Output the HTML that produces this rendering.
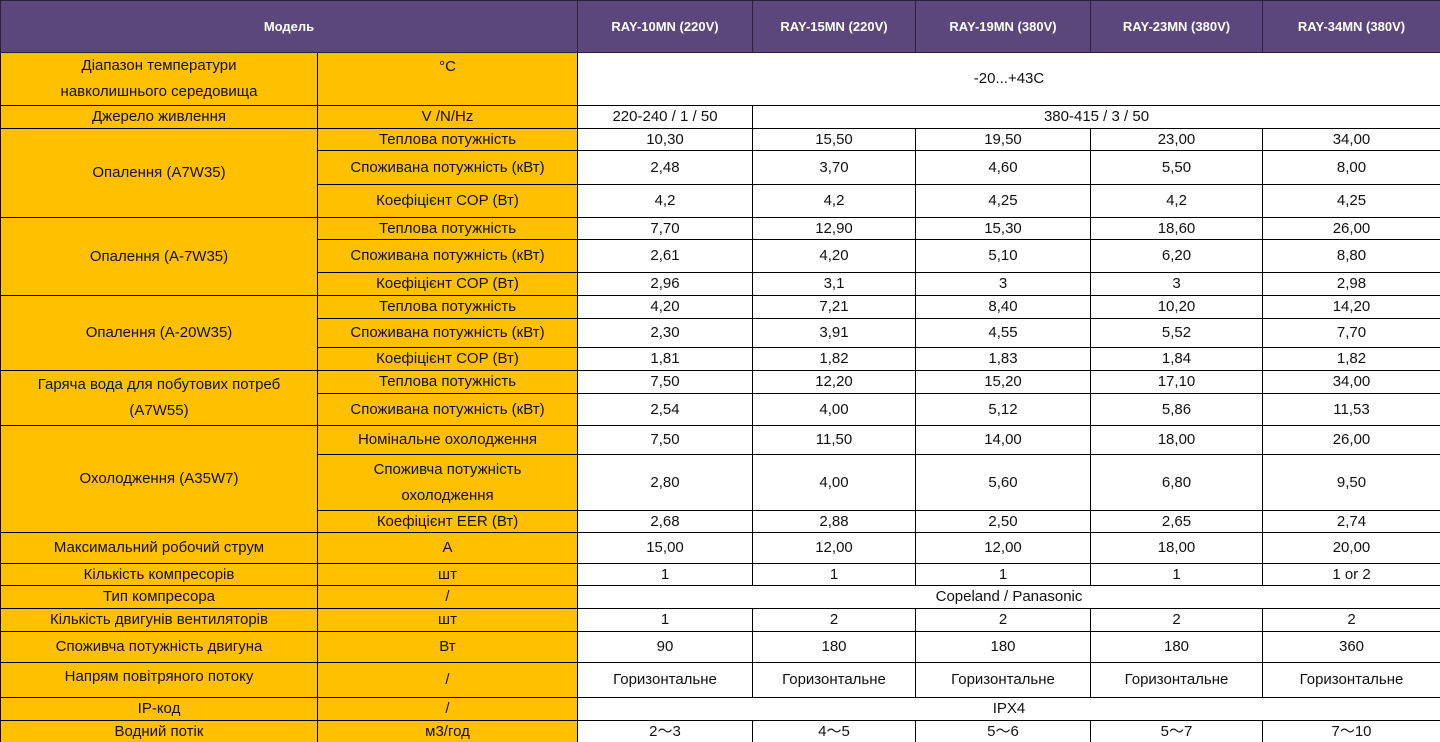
<!DOCTYPE html>
<html><head><meta charset="utf-8">
<style>
html,body{margin:0;padding:0;background:#fff;width:1440px;height:742px;overflow:hidden}
table{border-collapse:collapse;table-layout:fixed;width:1440px;font-family:"Liberation Sans",sans-serif;font-size:15px;color:#111}
td{border:1px solid #000;padding:0;text-align:center;vertical-align:middle;line-height:26px;white-space:nowrap;overflow:hidden}
tr.h td{background:#5b477c;color:#fff;font-weight:bold;font-size:13px;border-color:#2c2040}
td.y{background:#ffc000}
tr td{line-height:20px}
.two{line-height:26px}
</style></head><body>
<table>
<colgroup><col style="width:317px"><col style="width:260px"><col style="width:175px"><col style="width:163px"><col style="width:175px"><col style="width:172px"><col style="width:178px"></colgroup>
<tr class="h" style="height:52px"><td colspan="2">Модель</td><td>RAY-10MN (220V)</td><td>RAY-15MN (220V)</td><td>RAY-19MN (380V)</td><td>RAY-23MN (380V)</td><td>RAY-34MN (380V)</td></tr>
<tr style="height:52px"><td class="y two">Діапазон температури<br>навколишнього середовища</td><td class="y" style="vertical-align:top;padding-top:4px">°C</td><td colspan="5" style="border-top:none">-20...+43C</td></tr>
<tr style="height:23px"><td class="y">Джерело живлення</td><td class="y">V /N/Hz</td><td>220-240 / 1 / 50</td><td colspan="4">380-415 / 3 / 50</td></tr>
<tr style="height:22px"><td class="y" rowspan="3">Опалення (A7W35)</td><td class="y">Теплова потужність</td><td>10,30</td><td>15,50</td><td>19,50</td><td>23,00</td><td>34,00</td></tr>
<tr style="height:34px"><td class="y">Споживана потужність (кВт)</td><td>2,48</td><td>3,70</td><td>4,60</td><td>5,50</td><td>8,00</td></tr>
<tr style="height:33px"><td class="y">Коефіцієнт COP (Вт)</td><td>4,2</td><td>4,2</td><td>4,25</td><td>4,2</td><td>4,25</td></tr>
<tr style="height:22px"><td class="y" rowspan="3">Опалення (A-7W35)</td><td class="y">Теплова потужність</td><td>7,70</td><td>12,90</td><td>15,30</td><td>18,60</td><td>26,00</td></tr>
<tr style="height:33px"><td class="y">Споживана потужність (кВт)</td><td>2,61</td><td>4,20</td><td>5,10</td><td>6,20</td><td>8,80</td></tr>
<tr style="height:23px"><td class="y">Коефіцієнт COP (Вт)</td><td>2,96</td><td>3,1</td><td>3</td><td>3</td><td>2,98</td></tr>
<tr style="height:23px"><td class="y" rowspan="3">Опалення (A-20W35)</td><td class="y">Теплова потужність</td><td>4,20</td><td>7,21</td><td>8,40</td><td>10,20</td><td>14,20</td></tr>
<tr style="height:29px"><td class="y">Споживана потужність (кВт)</td><td>2,30</td><td>3,91</td><td>4,55</td><td>5,52</td><td>7,70</td></tr>
<tr style="height:23px"><td class="y">Коефіцієнт COP (Вт)</td><td>1,81</td><td>1,82</td><td>1,83</td><td>1,84</td><td>1,82</td></tr>
<tr style="height:23px"><td class="y two" rowspan="2">Гаряча вода для побутових потреб<br>(A7W55)</td><td class="y">Теплова потужність</td><td>7,50</td><td>12,20</td><td>15,20</td><td>17,10</td><td>34,00</td></tr>
<tr style="height:32px"><td class="y">Споживана потужність (кВт)</td><td>2,54</td><td>4,00</td><td>5,12</td><td>5,86</td><td>11,53</td></tr>
<tr style="height:29px"><td class="y" rowspan="3">Охолодження (A35W7)</td><td class="y">Номінальне охолодження</td><td>7,50</td><td>11,50</td><td>14,00</td><td>18,00</td><td>26,00</td></tr>
<tr style="height:56px"><td class="y two">Споживча потужність<br>охолодження</td><td>2,80</td><td>4,00</td><td>5,60</td><td>6,80</td><td>9,50</td></tr>
<tr style="height:22px"><td class="y">Коефіцієнт EER (Вт)</td><td>2,68</td><td>2,88</td><td>2,50</td><td>2,65</td><td>2,74</td></tr>
<tr style="height:31px"><td class="y">Максимальний робочий струм</td><td class="y">A</td><td>15,00</td><td>12,00</td><td>12,00</td><td>18,00</td><td>20,00</td></tr>
<tr style="height:22px"><td class="y">Кількість компресорів</td><td class="y">шт</td><td>1</td><td>1</td><td>1</td><td>1</td><td>1 or 2</td></tr>
<tr style="height:23px"><td class="y">Тип компресора</td><td class="y">/</td><td colspan="5">Copeland / Panasonic</td></tr>
<tr style="height:23px"><td class="y">Кількість двигунів вентиляторів</td><td class="y">шт</td><td>1</td><td>2</td><td>2</td><td>2</td><td>2</td></tr>
<tr style="height:31px"><td class="y">Споживча потужність двигуна</td><td class="y">Вт</td><td>90</td><td>180</td><td>180</td><td>180</td><td>360</td></tr>
<tr style="height:35px"><td class="y" style="vertical-align:top;padding-top:4px">Напрям повітряного потоку</td><td class="y">/</td><td>Горизонтальне</td><td>Горизонтальне</td><td>Горизонтальне</td><td>Горизонтальне</td><td>Горизонтальне</td></tr>
<tr style="height:23px"><td class="y">IP-код</td><td class="y">/</td><td colspan="5">IPX4</td></tr>
<tr style="height:23px"><td class="y">Водний потік</td><td class="y">м3/год</td><td>2～3</td><td>4～5</td><td>5～6</td><td>5～7</td><td>7～10</td></tr>
</table>
</body></html>
